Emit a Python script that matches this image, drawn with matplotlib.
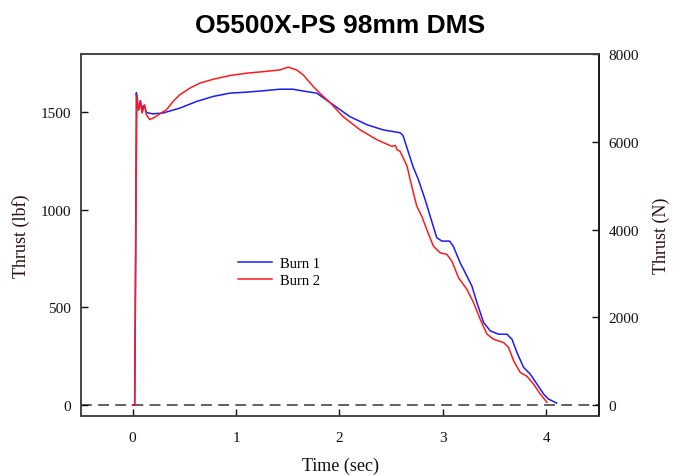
import matplotlib
matplotlib.use("Agg")
import matplotlib.pyplot as plt

title = "O5500X-PS 98mm DMS"
x_label = "Time (sec)"
y_label_left = "Thrust (lbf)"
y_label_right = "Thrust (N)"
series_names = ["Burn 1", "Burn 2"]

x_ticks = [0, 1, 2, 3, 4]
y_ticks_lbf = [0, 500, 1000, 1500]
y_ticks_n = [0, 2000, 4000, 6000, 8000]

burn1_t = [0.0, 0.02, 0.03, 0.036, 0.045, 0.058, 0.075, 0.09, 0.105, 0.116, 0.133,
           0.145, 0.194, 0.294, 0.37, 0.455, 0.617, 0.778, 0.939, 1.10, 1.26, 1.424,
           1.55, 1.68, 1.78, 1.908, 2.10, 2.266, 2.421, 2.586, 2.615, 2.71, 2.763,
           2.828, 2.877, 2.941, 2.99, 3.064, 3.10, 3.167, 3.232, 3.28, 3.329, 3.393,
           3.458, 3.538, 3.62, 3.668, 3.716, 3.78, 3.845, 3.91, 3.974, 4.02, 4.10]
burn1_lbf = [0, 0, 800, 1600, 1540, 1512, 1560, 1512, 1535, 1529, 1500,
             1497, 1492, 1496, 1508, 1521, 1555, 1581, 1598, 1603, 1610, 1618,
             1618, 1606, 1598, 1550, 1478, 1436, 1410, 1395, 1380, 1223, 1155,
             1053, 967, 857, 840, 840, 814, 729, 661, 610, 525, 423,
             380, 363, 363, 337, 269, 193, 158, 107, 56, 31, 10]

burn2_t = [0.0, 0.02, 0.03, 0.042, 0.058, 0.075, 0.091, 0.116, 0.133, 0.165, 0.197,
           0.23, 0.27, 0.326, 0.39, 0.455, 0.552, 0.649, 0.778, 0.939, 1.10, 1.26,
           1.424, 1.504, 1.585, 1.65, 1.746, 1.843, 1.908, 2.034, 2.199, 2.363, 2.508,
           2.54, 2.557, 2.586, 2.654, 2.683, 2.747, 2.796, 2.844, 2.908, 2.973, 3.038,
           3.087, 3.151, 3.232, 3.296, 3.361, 3.426, 3.49, 3.587, 3.635, 3.684, 3.748,
           3.813, 3.877, 3.942, 4.006]
burn2_lbf = [0, 0, 900, 1589, 1512, 1555, 1496, 1538, 1487, 1463, 1470,
             1480, 1495, 1512, 1555, 1589, 1623, 1649, 1669, 1688, 1700, 1708,
             1717, 1731, 1717, 1691, 1632, 1581, 1550, 1478, 1410, 1359, 1325,
             1330, 1308, 1300, 1223, 1155, 1019, 967, 899, 814, 780, 772,
             737, 652, 593, 525, 439, 363, 337, 320, 295, 226, 167,
             147, 107, 56, 14]

LBF_TO_N = 4.44822
x_limits = (-0.5, 4.51)
y_limits_lbf = (-56, 8000 / LBF_TO_N)

serif = ["Liberation Serif", "DejaVu Serif"]
plt.rcParams["font.family"] = serif

fig = plt.figure(figsize=(6.8, 4.77), dpi=100)
ax = fig.add_axes([0.119, 0.1258, 0.762, 0.7589])

ax.axhline(0, color="#555555", lw=1.3, dashes=(6, 3.5), zorder=1)
ax.plot(burn1_t, burn1_lbf, color="#1a1aff", lw=1.1, label=series_names[0], zorder=3)
ax.plot(burn2_t, burn2_lbf, color="#ff1a1a", lw=1.1, label=series_names[1], zorder=3)

ax.set_xlim(*x_limits)
ax.set_ylim(*y_limits_lbf)
ax.set_xticks(x_ticks)
ax.set_yticks(y_ticks_lbf)

ax2 = ax.twinx()
ax2.set_ylim(y_limits_lbf[0] * LBF_TO_N, y_limits_lbf[1] * LBF_TO_N)
ax2.set_yticks(y_ticks_n)

for a in (ax, ax2):
    for s in a.spines.values():
        s.set_color("#444444")
        s.set_linewidth(1.2)
ax2.spines["right"].set_color("#111111")

ax.tick_params(axis="x", direction="in", length=5, width=1, pad=11, labelsize=11, colors="#111111")
ax.tick_params(axis="y", direction="in", length=5, width=1, pad=7, labelsize=11, colors="#111111")
ax2.tick_params(axis="y", direction="in", length=5, width=1, pad=7, labelsize=11, colors="#111111")

ax.set_xlabel(x_label, fontsize=13, color="#111111")
ax.xaxis.set_label_coords(0.5, -0.135)
ax.xaxis.label.set_verticalalignment("center")
ax.set_ylabel(y_label_left, fontsize=13, color="#2a1010")
ax.yaxis.set_label_coords(-0.115, 0.5)
ax.yaxis.label.set_verticalalignment("center")
ax2.set_ylabel(y_label_right, fontsize=13, color="#2a1010")
ax2.yaxis.set_label_coords(1.12, 0.5)
ax2.yaxis.label.set_verticalalignment("center")

ax.legend(loc="upper left", bbox_to_anchor=(0.303, 0.44), frameon=False,
          fontsize=10.5, borderpad=0, borderaxespad=0, handlelength=2.35,
          handletextpad=0.55, labelspacing=0.25)

fig.suptitle(title, y=0.946, va="center", fontsize=19, fontweight="bold",
             family=["Liberation Sans", "DejaVu Sans"])

fig.savefig("out.png", dpi=100)
